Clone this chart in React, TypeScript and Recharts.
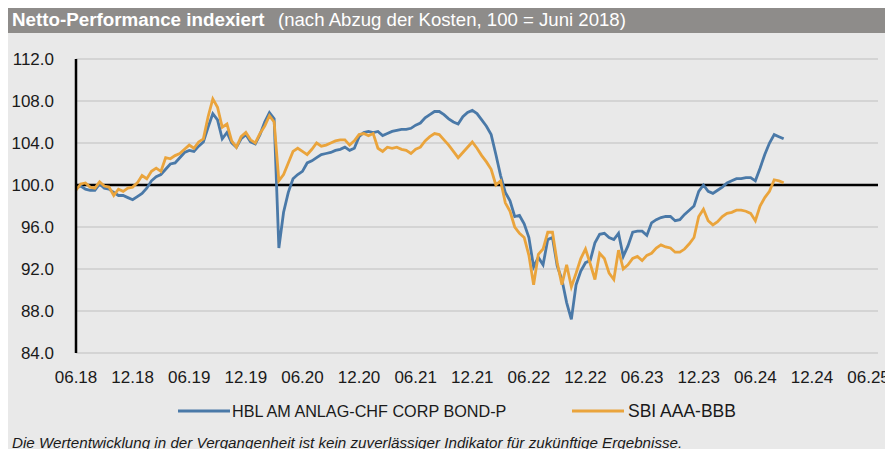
import React from "react";
import {
  LineChart,
  Line,
  XAxis,
  YAxis,
  CartesianGrid,
  ReferenceLine,
} from "recharts";

// x step: half a month, starting June 2018 (t = months since 06.18)
const stepMonths = 0.5;

const hblValues: number[] = [
  99.7, 99.9, 99.6, 99.5, 99.5, 100.1, 99.7, 99.6, 99.3, 99.0,
  99.0, 98.8, 98.6, 98.9, 99.2, 99.7, 100.4, 100.8, 101.0, 101.5,
  102.0, 102.1, 102.6, 103.1, 103.3, 103.2, 103.7, 104.1, 105.5, 106.8,
  106.2, 104.4, 105.0, 104.0, 103.6, 104.4, 104.8, 104.1, 103.9, 104.8,
  106.0, 106.9, 106.3, 94.0, 97.4, 99.3, 100.6, 101.0, 101.3, 102.1,
  102.3, 102.6, 102.9, 103.0, 103.1, 103.3, 103.4, 103.6, 103.3, 103.5,
  104.6, 105.0, 105.1, 105.0, 105.1, 104.7, 104.9, 105.1, 105.2, 105.3,
  105.3, 105.4, 105.7, 105.9, 106.4, 106.7, 107.0, 107.0, 106.7, 106.3,
  106.0, 105.8, 106.5, 106.9, 107.1, 106.8, 106.2, 105.6, 104.8, 102.9,
  100.9, 99.3, 98.5, 97.0, 97.1, 96.3, 95.0, 92.2, 93.1, 92.4,
  94.8, 95.0, 92.3, 91.0, 88.8, 87.2, 90.5, 91.8, 92.6, 92.8,
  94.5, 95.3, 95.4, 95.0, 94.8, 95.4, 93.2, 94.2, 95.5, 95.6,
  95.6, 95.2, 96.4, 96.7, 96.9, 97.0, 97.0, 96.6, 96.7, 97.2,
  97.6, 98.0, 99.4, 100.0, 99.4, 99.2, 99.5, 99.8, 100.2, 100.4,
  100.6, 100.6, 100.7, 100.7, 100.4, 101.6, 102.9, 104.0, 104.8, 104.6,
  104.4,
];

const sbiValues: number[] = [
  99.5, 100.1, 100.2, 99.8, 99.7, 100.3, 99.9, 99.8, 99.0, 99.6,
  99.4, 99.7, 99.8, 100.2, 100.9, 100.6, 101.3, 101.6, 101.3, 102.6,
  102.5, 102.8, 103.0, 103.4, 103.8, 103.5, 104.1, 104.4, 106.5, 108.2,
  107.4, 105.5, 105.8, 104.2, 103.6, 104.6, 105.0, 104.3, 104.0, 104.9,
  105.6, 106.6, 106.0, 100.4, 101.0, 102.1, 103.2, 103.5, 103.2, 102.9,
  103.4, 104.0, 103.7, 103.8, 104.0, 104.2, 104.3, 104.3, 103.8, 104.2,
  104.8, 104.9, 104.7, 104.9, 103.5, 103.2, 103.6, 103.5, 103.6, 103.4,
  103.3, 103.0, 103.4, 103.6, 104.2, 104.6, 104.9, 104.8, 104.3, 103.8,
  103.2, 102.6, 103.1, 103.6, 104.1, 103.5, 102.8, 102.2, 101.5, 100.0,
  100.4, 98.3, 97.5, 96.0, 95.4, 95.0, 93.3, 90.5, 93.4, 93.9,
  95.5, 95.5, 92.6, 90.5, 92.4, 90.3, 91.6, 93.0, 93.9, 92.5,
  91.0, 93.5, 93.0, 91.6, 91.0, 93.8, 92.0, 92.4, 93.0, 93.2,
  92.8, 93.3, 93.5, 94.0, 94.3, 94.1, 94.0, 93.6, 93.6, 93.9,
  94.4, 95.0, 97.0, 97.7, 96.6, 96.2, 96.5, 97.0, 97.3, 97.4,
  97.6, 97.6, 97.5, 97.3, 96.6, 98.0, 98.8, 99.4, 100.5, 100.4,
  100.2,
];

const yTicks: number[] = [84, 88, 92, 96, 100, 104, 108, 112];
const xTicks: number[] = [0, 6, 12, 18, 24, 30, 36, 42, 48, 54, 60, 66, 72, 78, 84];

const seriesNames = ["HBL AM ANLAG-CHF CORP BOND-P", "SBI AAA-BBB"];
const seriesColors = ["#4a79a8", "#eaa43c"];

const data = hblValues.map((v, i) => ({
  t: i * stepMonths,
  hbl: v,
  sbi: sbiValues[i],
}));

const fmtMonth = (m: number) => {
  const idx = 5 + m; // June 2018 = month index 5 of 2018
  const mm = (idx % 12) + 1;
  const yy = 18 + Math.floor(idx / 12);
  return `${String(mm).padStart(2, "0")}.${yy}`;
};

const FONT = "'Liberation Sans', Arial, sans-serif";

export default function App() {
  return (
    <div
      style={{
        position: "relative",
        width: 893,
        height: 457,
        margin: -8,
        background: "#ffffff",
        overflow: "hidden",
        fontFamily: FONT,
      }}
    >
      <div
        style={{
          position: "absolute",
          left: 4,
          top: 33,
          width: 889,
          height: 424,
          background: "#e9e9e9",
        }}
      />
      <div
        style={{
          position: "absolute",
          left: 3,
          top: 7,
          width: 890,
          height: 26,
          background: "#8e8c8a",
          color: "#ffffff",
          lineHeight: "26px",
          whiteSpace: "nowrap",
        }}
      >
        <span style={{ position: "absolute", left: 9, fontWeight: "bold", fontSize: 18.8 }}>
          Netto-Performance indexiert
        </span>
        <span style={{ position: "absolute", left: 275, fontSize: 18.6 }}>
          (nach Abzug der Kosten, 100 = Juni 2018)
        </span>
      </div>
      <div style={{ position: "absolute", left: 0, top: 0 }}>
        <LineChart
          width={893}
          height={457}
          data={data}
          margin={{ top: 59, right: 15, bottom: 74, left: 16 }}
        >
          <CartesianGrid
            horizontal={true}
            vertical={false}
            stroke="#d4d4d4"
            strokeWidth={2}
          />
          <XAxis
            dataKey="t"
            type="number"
            domain={[0, 85]}
            ticks={xTicks}
            tickFormatter={fmtMonth}
            axisLine={false}
            tickLine={false}
            interval={0}
            height={30}
            tick={{ fill: "#1a1a1a", fontSize: 17, fontFamily: FONT, dy: 10 }}
          />
          <YAxis
            type="number"
            domain={[84, 112]}
            ticks={yTicks}
            tickFormatter={(v: number) => v.toFixed(1)}
            axisLine={{ stroke: "#000000", strokeWidth: 2.5 }}
            tickLine={false}
            width={60}
            interval={0}
            tick={{ fill: "#1a1a1a", fontSize: 17, fontFamily: FONT, dx: -14 }}
          />
          <ReferenceLine y={100} stroke="#000000" strokeWidth={2.5} />
          <Line
            type="linear"
            dataKey="hbl"
            name={seriesNames[0]}
            stroke={seriesColors[0]}
            strokeWidth={2.8}
            dot={false}
            isAnimationActive={false}
          />
          <Line
            type="linear"
            dataKey="sbi"
            name={seriesNames[1]}
            stroke={seriesColors[1]}
            strokeWidth={2.8}
            dot={false}
            isAnimationActive={false}
          />
        </LineChart>
      </div>
      {/* legend */}
      <div style={{ position: "absolute", left: 0, top: 400, width: 893, height: 22, fontSize: 16.2, color: "#1a1a1a" }}>
        <svg width={52} height={6} style={{ position: "absolute", left: 178, top: 8 }}>
          <line x1={0} y1={3} x2={52} y2={3} stroke={seriesColors[0]} strokeWidth={3} />
        </svg>
        <span style={{ position: "absolute", left: 232, top: 1, lineHeight: "20px", whiteSpace: "nowrap" }}>
          {seriesNames[0]}
        </span>
        <svg width={52} height={6} style={{ position: "absolute", left: 572, top: 8 }}>
          <line x1={0} y1={3} x2={52} y2={3} stroke={seriesColors[1]} strokeWidth={3} />
        </svg>
        <span style={{ position: "absolute", left: 628, top: 1, lineHeight: "20px", fontSize: 17.5, whiteSpace: "nowrap" }}>
          {seriesNames[1]}
        </span>
      </div>
      <div
        style={{
          position: "absolute",
          left: 12,
          top: 434,
          fontSize: 15.2,
          lineHeight: "18px",
          fontStyle: "italic",
          color: "#1a1a1a",
          whiteSpace: "nowrap",
        }}
      >
        Die Wertentwicklung in der Vergangenheit ist kein zuverlässiger Indikator für zukünftige Ergebnisse.
      </div>
    </div>
  );
}
